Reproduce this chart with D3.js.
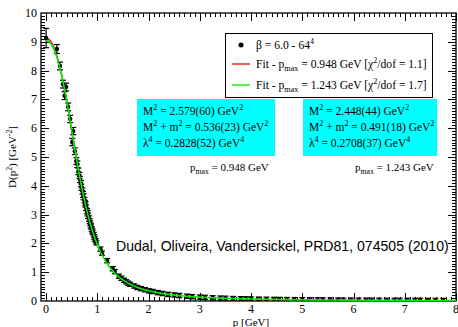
<!DOCTYPE html>
<html>
<head>
<meta charset="utf-8">
<script src="https://cdn.jsdelivr.net/npm/d3@7"></script>
<style>
body { margin: 0; background: #fff; }
svg { display: block; }
</style>
</head>
<body>
<div id="chart"></div>
<script>
// lattice data: momentum p [GeV], D(p^2) [GeV^-2], error
var pData = [0.00, 0.21, 0.27, 0.33, 0.36, 0.39, 0.43, 0.47, 0.51, 0.53, 0.56, 0.59,
    0.61, 0.63, 0.65, 0.66, 0.68, 0.69, 0.71, 0.72, 0.73, 0.75, 0.76, 0.77, 0.78,
    0.80, 0.81, 0.82, 0.84, 0.85, 0.86, 0.87, 0.88, 0.89, 0.90, 0.91, 0.93, 0.94,
    0.95, 0.97, 0.98, 1.06, 1.09, 1.19, 1.30, 1.34, 1.42, 1.47, 1.52, 1.56, 1.60,
    1.64, 1.72, 1.78, 1.85, 1.93, 2.01, 2.08, 2.18, 2.27, 2.38, 2.50, 2.60, 2.75,
    2.85, 3.00, 3.10, 3.25, 3.40, 3.50, 3.65, 3.80, 3.90, 4.00, 4.15, 4.30, 4.45,
    4.55, 4.70, 4.85, 5.00, 5.15, 5.30, 5.40, 5.55, 5.70, 5.80, 5.95, 6.10, 6.25,
    6.35, 6.50, 6.65, 6.80, 6.90, 7.05, 7.20, 7.30, 7.45, 7.60, 7.75];
var dData = [9.13, 8.75, 8.16, 7.53, 7.13, 7.43, 6.74, 6.32, 5.52, 5.90, 5.20, 4.86,
    4.75, 4.50, 4.36, 4.22, 4.08, 3.95, 3.82, 3.70, 3.62, 3.50, 3.40, 3.35, 3.24,
    3.12, 3.05, 2.96, 2.86, 2.77, 2.70, 2.62, 2.58, 2.50, 2.44, 2.38, 2.30, 2.22,
    2.16, 2.09, 2.02, 1.80, 1.66, 1.40, 1.12, 1.02, 0.86, 0.79, 0.72, 0.67, 0.62,
    0.58, 0.52, 0.47, 0.43, 0.39, 0.35, 0.33, 0.29, 0.26, 0.23, 0.21, 0.19, 0.165,
    0.15, 0.135, 0.125, 0.11, 0.10, 0.095, 0.085, 0.078, 0.074, 0.07, 0.064, 0.06, 0.055,
    0.053, 0.049, 0.046, 0.043, 0.04, 0.038, 0.037, 0.034, 0.033, 0.031, 0.03, 0.028, 0.027,
    0.026, 0.025, 0.024, 0.023, 0.022, 0.021, 0.02, 0.02, 0.019, 0.018, 0.017];
var eData = [0.30, 0.12, 0.10, 0.10, 0.10, 0.10, 0.10, 0.09, 0.09, 0.09, 0.08, 0.08,
    0.08, 0.08, 0.07, 0.07, 0.07, 0.07, 0.07, 0.07, 0.07, 0.06, 0.06, 0.06, 0.06,
    0.06, 0.06, 0.06, 0.06, 0.05, 0.05, 0.05, 0.05, 0.05, 0.05, 0.05, 0.05, 0.05,
    0.05, 0.04, 0.04, 0.04, 0.04, 0.04, 0.04, 0.04, 0.04, 0.04, 0.04, 0.04, 0.04,
    0.04, 0.04, 0.04, 0.04, 0.04, 0.04, 0.04, 0.04, 0.04, 0.04, 0.04, 0.04, 0.04,
    0.04, 0.04, 0.04, 0.04, 0.04, 0.04, 0.04, 0.04, 0.04, 0.04, 0.04, 0.04, 0.04,
    0.04, 0.04, 0.04, 0.04, 0.04, 0.04, 0.04, 0.04, 0.04, 0.04, 0.04, 0.04, 0.04,
    0.04, 0.04, 0.04, 0.04, 0.04, 0.04, 0.04, 0.04, 0.04, 0.04, 0.04];

// fit parameters [M^2, M^2+m^2, lambda^4] and range p_max
var fitRed = [2.579, 0.536, 0.2828];
var fitGreen = [2.448, 0.491, 0.2708];
var pmaxRed = 0.948;
var pmaxGreen = 1.243;

var xTicks = [0, 1, 2, 3, 4, 5, 6, 7, 8];
var yTicks = [0, 1, 2, 3, 4, 5, 6, 7, 8, 9, 10];

function propagator(p, par) {
    var p2 = p * p;
    return (p2 + par[0]) / (p2 * p2 + par[1] * p2 + par[2]);
}

var W = 458, H = 327;
var svg = d3.select("#chart").append("svg")
    .attr("width", W).attr("height", H);

var plotL = 41, plotR = 456, plotT = 13, plotB = 301;
var x = d3.scaleLinear().domain([-0.1, 8]).range([plotL, plotR]);
var y = d3.scaleLinear().domain([0, 10]).range([plotB, plotT]);

var serif = "'Liberation Serif', 'Times New Roman', serif";

svg.append("clipPath").attr("id", "clip")
    .append("rect").attr("x", plotL).attr("y", plotT)
    .attr("width", plotR - plotL).attr("height", plotB - plotT);

// axes frame with inward ticks
var g = svg.append("g").attr("stroke", "#000").attr("stroke-width", 1);
g.append("rect").attr("x", plotL).attr("y", plotT)
    .attr("width", plotR - plotL).attr("height", plotB - plotT)
    .attr("fill", "none").attr("stroke-width", 1.3);

var xMinor = d3.range(0, 80.5, 1).map(function(d) { return d / 10; });
var yMinor = d3.range(1, 100, 1).map(function(d) { return d / 10; });

xMinor.forEach(function(v) {
    var major = Math.abs(v - Math.round(v)) < 1e-6;
    var len = major ? 8 : 4;
    var px = Math.round(x(v)) + 0.5;
    g.append("line").attr("x1", px).attr("x2", px).attr("y1", plotB).attr("y2", plotB - len);
    g.append("line").attr("x1", px).attr("x2", px).attr("y1", plotT).attr("y2", plotT + len);
});
yMinor.forEach(function(v) {
    var major = Math.abs(v - Math.round(v)) < 1e-6;
    var len = major ? 8 : 4;
    var py = Math.round(y(v)) + 0.5;
    g.append("line").attr("x1", plotL).attr("x2", plotL + len).attr("y1", py).attr("y2", py);
    g.append("line").attr("x1", plotR).attr("x2", plotR - len).attr("y1", py).attr("y2", py);
});

// tick labels
svg.append("g").selectAll("text").data(xTicks).join("text")
    .attr("x", function(d) { return x(d); })
    .attr("y", 313)
    .attr("text-anchor", "middle")
    .attr("font-family", serif).attr("font-size", 12)
    .text(function(d) { return d; });
svg.append("g").selectAll("text").data(yTicks).join("text")
    .attr("x", 37)
    .attr("y", function(d) { return y(d) + 4; })
    .attr("text-anchor", "end")
    .attr("font-family", serif).attr("font-size", 12)
    .text(function(d) { return d; });

// rich text helper: segments with optional sup/sub, baseline restored on next segment
function richText(sel, segs, size) {
    sel.attr("font-size", size);
    var shift = 0;
    segs.forEach(function(s) {
        var target = s.sup ? -size * 0.4 : (s.sub ? size * 0.3 : 0);
        var ts = sel.append("tspan")
            .attr("font-size", (s.sup || s.sub) ? size * 0.7 : size)
            .text(s.t);
        if (target !== shift) ts.attr("dy", target - shift);
        shift = target;
    });
}

// axis titles
var xt = svg.append("text").attr("x", 251).attr("y", 326)
    .attr("text-anchor", "middle").attr("font-family", serif);
richText(xt, [{t: "p  [GeV]"}], 11);

var yt = svg.append("text")
    .attr("transform", "translate(16," + 157 + ") rotate(-90)")
    .attr("text-anchor", "middle").attr("font-family", serif);
richText(yt, [{t: "D(p"}, {t: "2", sup: true}, {t: ")  [GeV"}, {t: "-2", sup: true}, {t: "]"}], 11);

// fit curves
var plot = svg.append("g").attr("clip-path", "url(#clip)");
var line = d3.line().x(function(d) { return x(d[0]); }).y(function(d) { return y(d[1]); });

var redPts = d3.range(0, pmaxRed + 0.001, 0.005).map(function(p) { return [p, propagator(p, fitRed)]; });
var greenPts = d3.range(0, 8.0001, 0.01).map(function(p) { return [p, propagator(p, fitGreen)]; });

plot.append("path").datum(redPts).attr("d", line)
    .attr("fill", "none").attr("stroke", "#ff0000").attr("stroke-width", 1.5);

// data with error bars
var pts = pData.map(function(p, i) { return {p: p, d: dData[i], e: eData[i]}; });
var dg = plot.append("g").attr("stroke", "#000").attr("stroke-width", 1.2);
pts.forEach(function(o) {
    var cx = x(o.p), y1 = y(o.d + o.e), y2 = y(o.d - o.e);
    dg.append("line").attr("x1", cx).attr("x2", cx).attr("y1", y1 - 1).attr("y2", y2 + 1);
    dg.append("line").attr("x1", cx - 3).attr("x2", cx + 3).attr("y1", y1 - 1).attr("y2", y1 - 1);
    dg.append("line").attr("x1", cx - 3).attr("x2", cx + 3).attr("y1", y2 + 1).attr("y2", y2 + 1);
    dg.append("circle").attr("cx", cx).attr("cy", y(o.d)).attr("r", 2.2)
        .attr("fill", "#000").attr("stroke", "none");
});

plot.append("path").datum(greenPts).attr("d", line)
    .attr("fill", "none").attr("stroke", "#00ee00").attr("stroke-width", 1.6);

// legend
var lg = svg.append("g");
lg.append("rect").attr("x", 225.5).attr("y", 33.5).attr("width", 207).attr("height", 64)
    .attr("fill", "#fff").attr("stroke", "#000").attr("stroke-width", 1);
lg.append("circle").attr("cx", 241).attr("cy", 45).attr("r", 2.5).attr("fill", "#000");
lg.append("line").attr("x1", 232).attr("x2", 250).attr("y1", 64).attr("y2", 64)
    .attr("stroke", "#ff0000").attr("stroke-width", 1.3);
lg.append("line").attr("x1", 232).attr("x2", 250).attr("y1", 85).attr("y2", 85)
    .attr("stroke", "#00ee00").attr("stroke-width", 1.3);

var legRows = [
    [{t: "\u03b2 = 6.0  -  64"}, {t: "4", sup: true}],
    [{t: "Fit - p"}, {t: "max", sub: true}, {t: " = 0.948 GeV [\u03c7"}, {t: "2", sup: true}, {t: "/dof = 1.1]"}],
    [{t: "Fit - p"}, {t: "max", sub: true}, {t: " = 1.243 GeV [\u03c7"}, {t: "2", sup: true}, {t: "/dof = 1.7]"}]
];
var legY = [49, 68, 89];
legRows.forEach(function(r, i) {
    var t = lg.append("text").attr("x", 256).attr("y", legY[i]).attr("font-family", serif);
    richText(t, r, 11.6);
});

// parameter boxes
var boxX = [137, 303];
var boxW = [138, 134];
var fits = [fitRed, fitGreen];
var fitErr = [["60", "23", "52"], ["44", "18", "37"]];
var pmaxText = [pmaxRed, pmaxGreen];
var pmaxX = [190, 355];

fits.forEach(function(par, i) {
    svg.append("rect").attr("x", boxX[i]).attr("y", 99).attr("width", boxW[i]).attr("height", 57)
        .attr("fill", "#00ffff");
    var rows = [
        [{t: "M"}, {t: "2", sup: true}, {t: " = " + par[0].toFixed(3) + "(" + fitErr[i][0] + ") GeV"}, {t: "2", sup: true}],
        [{t: "M"}, {t: "2", sup: true}, {t: " + m"}, {t: "2", sup: true}, {t: " = " + par[1].toFixed(3) + "(" + fitErr[i][1] + ") GeV"}, {t: "2", sup: true}],
        [{t: "\u03bb"}, {t: "4", sup: true}, {t: " = " + par[2].toFixed(4) + "(" + fitErr[i][2] + ") GeV"}, {t: "4", sup: true}]
    ];
    rows.forEach(function(r, j) {
        var t = svg.append("text").attr("x", boxX[i] + 6).attr("y", 115 + j * 16).attr("font-family", serif);
        richText(t, r, 11.5);
    });
    var pt = svg.append("text").attr("x", pmaxX[i]).attr("y", 171).attr("font-family", serif);
    richText(pt, [{t: "p"}, {t: "max", sub: true}, {t: " = " + pmaxText[i].toFixed(3) + " GeV"}], 11);
});

// citation
svg.append("text").attr("x", 116).attr("y", 251)
    .attr("font-family", "'Liberation Sans', Arial, sans-serif").attr("font-size", 14.1)
    .text("Dudal, Oliveira, Vandersickel, PRD81, 074505 (2010)");
</script>
</body>
</html>
